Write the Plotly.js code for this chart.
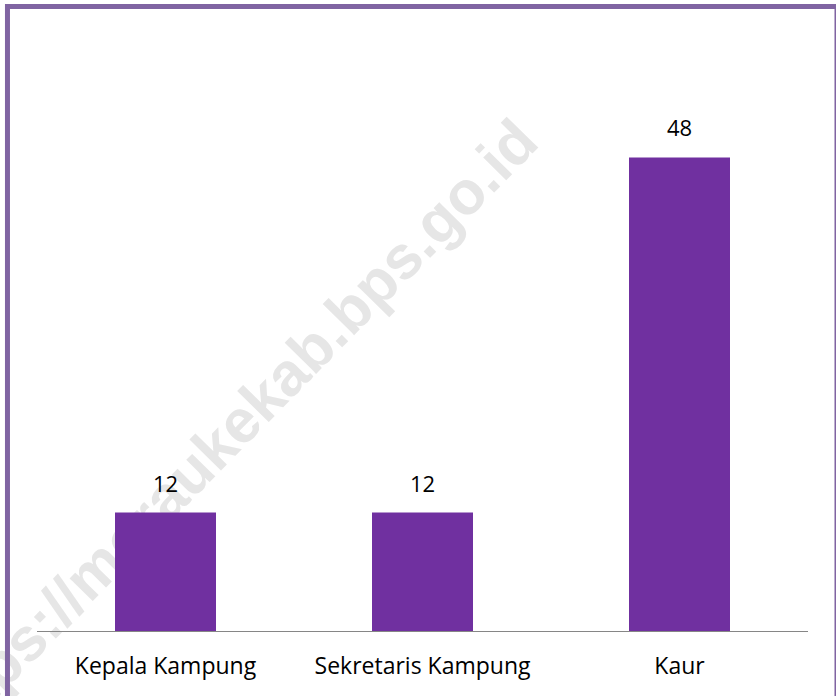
<!DOCTYPE html>
<html>
<head>
<meta charset="utf-8">
<script src="https://cdn.plot.ly/plotly-3.0.1.min.js"></script>
<style>
  html, body { margin: 0; padding: 0; background: #ffffff; }
  #chart { width: 836px; height: 696px; }
</style>
</head>
<body>
<div id="chart"></div>
<script>
const categories = ["Kepala Kampung", "Sekretaris Kampung", "Kaur"];
const counts = [12, 12, 48];
const watermark = "https://meraukekab.bps.go.id";

const barColor = "#7030A0";
const frameColor = "#8064A2";

const trace = {
  type: "bar",
  x: categories,
  y: counts,
  marker: { color: barColor },
  cliponaxis: false,
  hoverinfo: "x+y",
};

// value labels sit on top of each bar
const valueLabels = categories.map((c, i) => ({
  x: c,
  y: counts[i],
  xref: "x",
  yref: "y",
  text: String(counts[i]),
  showarrow: false,
  xanchor: "center",
  yanchor: "bottom",
  yshift: 13,
  font: { family: "Open Sans, sans-serif", size: 22, color: "#000000" },
}));

const layout = {
  width: 836,
  height: 696,
  margin: { l: 37, r: 28, t: 39, b: 65, pad: 0 },
  paper_bgcolor: "#ffffff",
  plot_bgcolor: "rgba(0,0,0,0)",
  bargap: 0.607,
  showlegend: false,
  font: { family: "Open Sans, sans-serif", color: "#000000" },
  xaxis: {
    showline: true,
    linecolor: "#868686",
    linewidth: 1,
    ticks: "",
    showgrid: false,
    zeroline: false,
    tickfont: { size: 23, color: "#000000" },
    ticklabelstandoff: 14,
    fixedrange: true,
  },
  yaxis: {
    visible: false,
    range: [0, 60],
    fixedrange: true,
  },
  annotations: valueLabels,
  shapes: [
    {
      // watermark, behind the bars
      type: "line",
      xref: "paper",
      yref: "paper",
      x0: 0.1530, y0: 0.2230,
      x1: 0.3346, y1: 0.4629,
      layer: "below",
      line: { width: 0, color: "#e6e6e6" },
      label: {
        text: "<b>" + watermark + "</b>",
        textangle: -45.5,
        textposition: "middle",
        xanchor: "center",
        yanchor: "middle",
        font: { family: "Liberation Sans, Arial, sans-serif", size: 61, color: "#e6e6e6" },
      },
    },
    {
      // purple frame
      type: "rect",
      xref: "paper",
      yref: "paper",
      x0: -0.0383, x1: 1.0376,
      y0: -0.12, y1: 1.0549,
      layer: "above",
      line: { color: frameColor, width: 5 },
      fillcolor: "rgba(0,0,0,0)",
    },
  ],
};

Plotly.newPlot("chart", [trace], layout, { displayModeBar: false });
</script>
</body>
</html>
